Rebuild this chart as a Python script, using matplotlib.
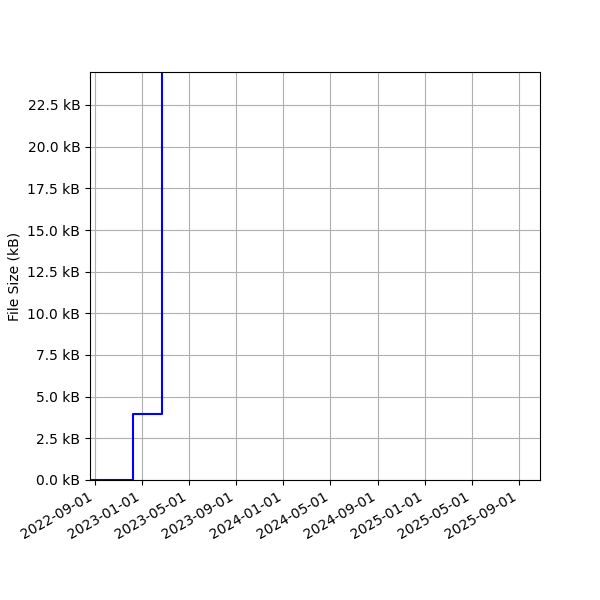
import matplotlib
matplotlib.use("Agg")
import matplotlib.pyplot as plt
import matplotlib.ticker as mticker
import matplotlib.dates as mdates
import numpy as np
import pandas as pd

# commit dates and file size (kB) after each commit
dates = pd.to_datetime(["2022-08-19", "2022-12-07", "2023-02-20", "2023-06-01"])
sizes_kB = [0.0, 3.97, 60.0, 60.0]

fig, ax = plt.subplots(figsize=(6, 6), dpi=100)

ax.plot(dates, sizes_kB, drawstyle='steps-post', color='blue')

ax.set_ylabel('File Size (kB)')
ax.set_xlim(pd.Timestamp("2022-08-19"), pd.Timestamp("2025-10-25"))
ax.set_ylim(0, 24.48)
ax.yaxis.set_major_locator(mticker.MultipleLocator(2.5))
ax.yaxis.set_major_formatter(mticker.FuncFormatter(lambda v, p: f"{v:.1f} kB"))
ax.xaxis.set_major_locator(mdates.MonthLocator(bymonth=[1, 5, 9]))
ax.xaxis.set_major_formatter(mdates.DateFormatter('%Y-%m-%d'))
ax.grid(True)

fig.autofmt_xdate()
fig.subplots_adjust(left=0.15)

fig.savefig("out.png", dpi=100)
plt.close(fig)
